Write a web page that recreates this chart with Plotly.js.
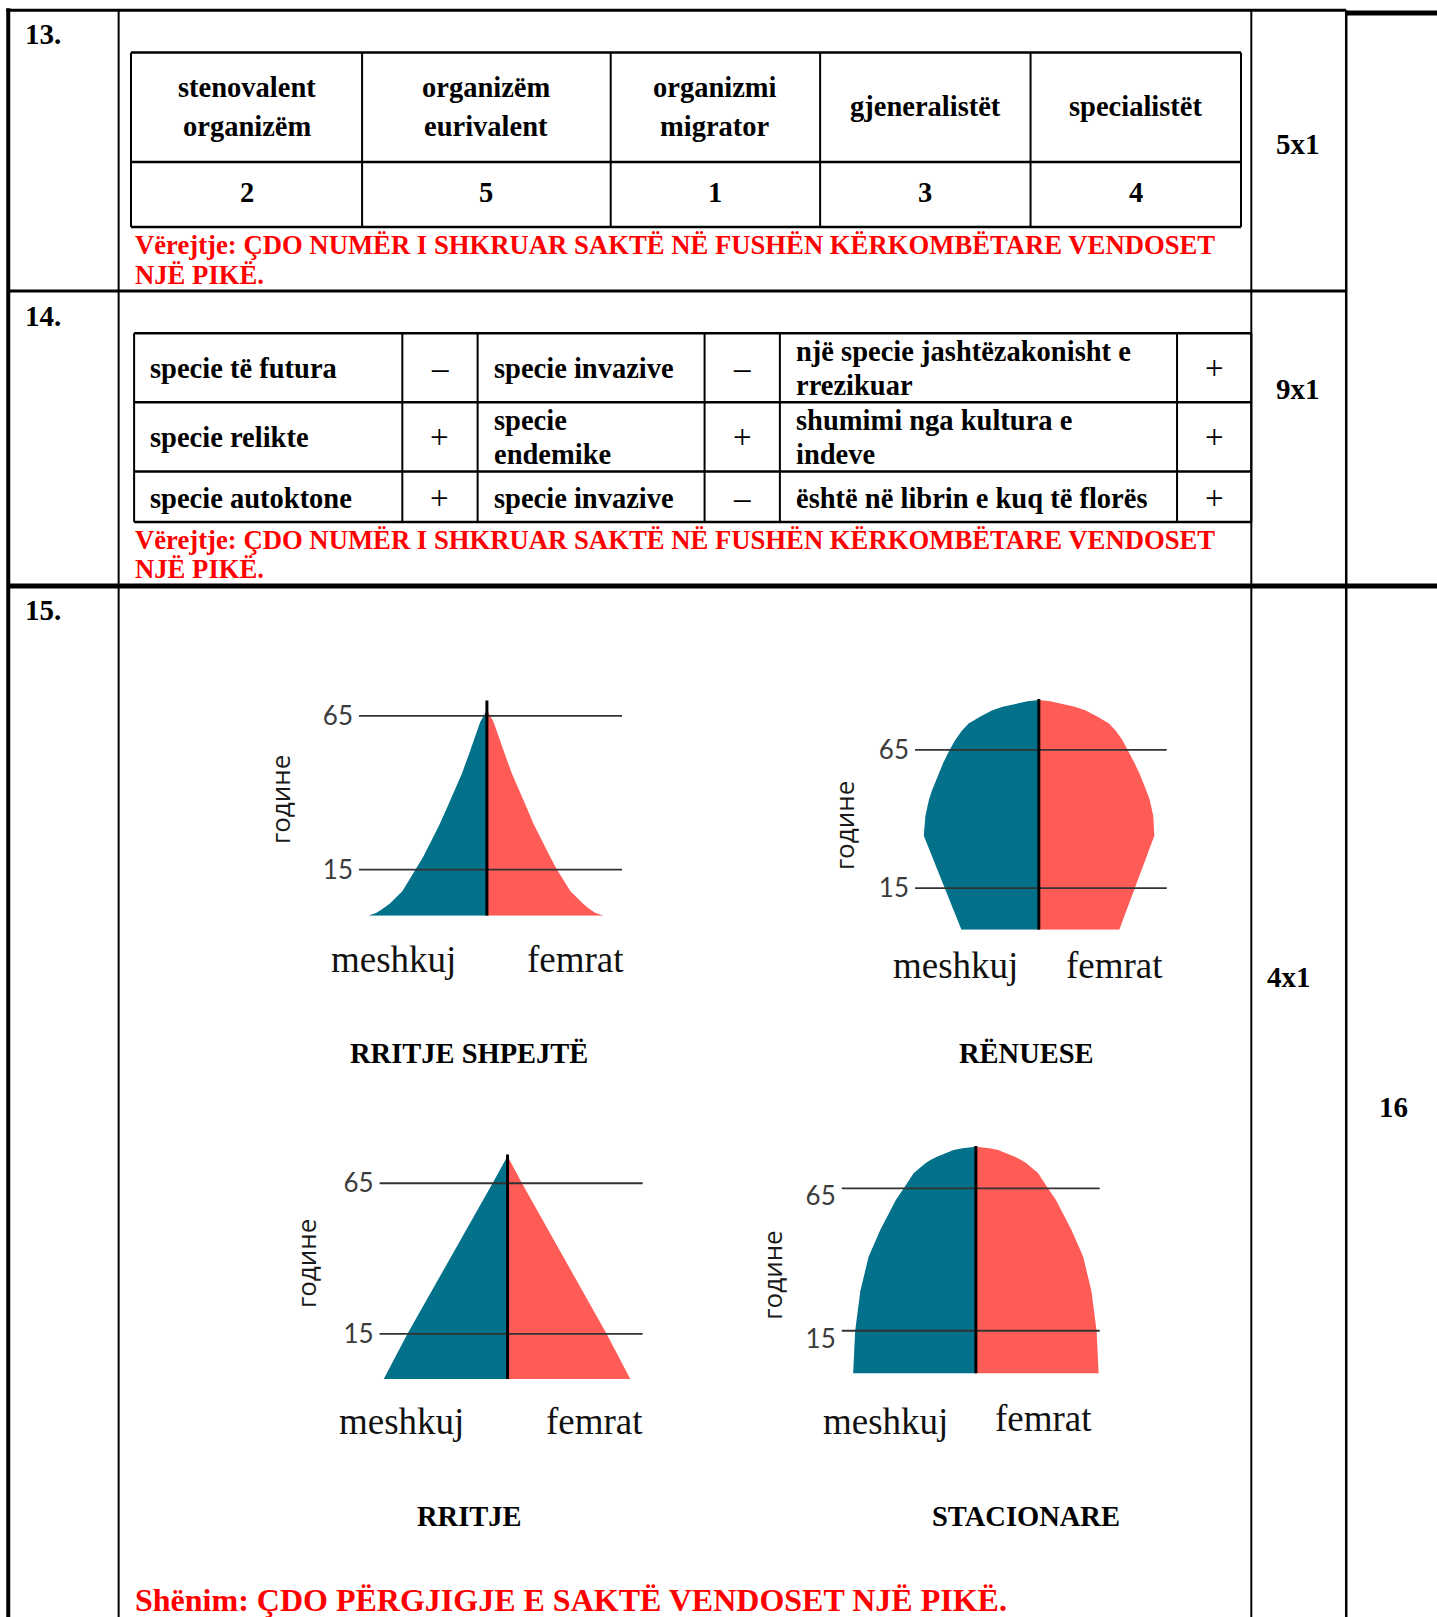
<!DOCTYPE html>
<html><head><meta charset="utf-8">
<script src="https://cdn.plot.ly/plotly-3.0.1.min.js"></script>
<style>html,body{margin:0;padding:0;background:#fff}#chart{width:1437px;height:1617px}</style>
</head><body><div id="chart"></div>
<script>
// ---------------- data ----------------
const sectionNumbers = ["13.", "14.", "15."];
const q13Headers = ["stenovalent\norganizëm", "organizëm\neurivalent", "organizmi\nmigrator", "gjeneralistët", "specialistët"];
const q13Answers = ["2", "5", "1", "3", "4"];
const q14Terms = [
  ["specie të futura", "specie invazive", "një specie jashtëzakonisht e\nrrezikuar"],
  ["specie relikte", "specie\nendemike", "shumimi nga kultura e\nindeve"],
  ["specie autoktone", "specie invazive", "është në librin e kuq të florës"]
];
const q14Signs = [["–", "–", "+"], ["+", "+", "+"], ["+", "–", "+"]];
const scores = ["5x1", "9x1", "4x1"];
const totalScore = "16";
const noteQ = ["Vërejtje: ÇDO NUMËR I SHKRUAR SAKTË NË FUSHËN KËRKOMBËTARE VENDOSET", "NJË PIKË."];
const noteFinal = "Shënim: ÇDO PËRGJIGJE E SAKTË VENDOSET NJË PIKË.";
const pyramidTitles = ["RRITJE SHPEJTË", "RËNUESE", "RRITJE", "STACIONARE"];
const sexLabels = ["meshkuj", "femrat"];
const ageAxisTitle = "године";
const ageTicks = [15, 65];

const agesShpejte    = [0, 1, 2, 4, 8, 15, 19, 25, 30, 36, 41, 46, 52, 58, 63, 65, 67];
const meshkujShpejte = [115, 107, 102, 94, 82, 69, 62, 53, 45.5, 37.5, 31, 24.5, 18, 11.5, 6.5, 3.2, 0];
const femratShpejte  = [113, 105, 100, 93, 81, 68, 61.5, 52.5, 45, 37.5, 31, 24.5, 18, 11.5, 6.5, 3.2, 0];

const agesRenuese    = [0, 15, 34, 41, 47, 50.5, 56.6, 60.5, 64.6, 68.6, 71.8, 74.6, 77, 79.4, 80.6, 81.9, 82.6, 83.1];
const meshkujRenuese = [75, 91, 111.5, 110, 106.5, 103.4, 97, 92.5, 87, 81, 75, 68, 57, 45, 35, 19.4, 11, 0];
const femratRenuese  = [78, 93, 112, 111, 107.5, 104, 97.5, 92.5, 87, 81, 75, 68, 57, 45, 35, 19.4, 11, 0];

const agesRritje    = [0, 15, 65, 74];
const meshkujRritje = [120, 97, 14.5, 0];
const femratRritje  = [119, 96, 14, 0];

const agesStacionare    = [0, 15, 29, 41, 50.4, 56.2, 61, 65, 70.3, 73.8, 75, 76.1, 77.3, 78.5, 79.1, 79.6];
const meshkujStacionare = [119, 117, 112, 104, 92.7, 84.7, 77.5, 70, 60.4, 49, 44, 37.8, 30.5, 21.6, 13, 0];
const femratStacionare  = [119, 117, 112, 104, 92.7, 84.7, 77.5, 70, 60.4, 49, 44, 37.8, 30.5, 21.6, 13, 0];

// ---------------- layout helpers ----------------
const W = 1437, H = 1617, S = 1437 / 1393;
const px = d => d / 1393;
const py = d => 1 - d * S / H;
const SERIF = "Liberation Serif, Times New Roman, serif";
const TEAL = "#03718a", RED = "#ff5b57";

const shapes = [];
const annotations = [];
function hline(x0, x1, y, w, c) { shapes.push({type:"line", xref:"paper", yref:"paper", x0:px(x0), x1:px(x1), y0:py(y), y1:py(y), line:{color:c||"#000", width:w}}); }
function vline(x, y0, y1, w, c) { shapes.push({type:"line", xref:"paper", yref:"paper", x0:px(x), x1:px(x), y0:py(y0), y1:py(y1), line:{color:c||"#000", width:w}}); }
function T(text, xd, yd, size, o) {
  o = o || {};
  annotations.push({text, x:px(xd), y:py(yd), xref:"paper", yref:"paper", showarrow:false,
    xanchor:o.anchor||"center", yanchor:"middle", textangle:o.angle||0,
    font:{family:o.family||SERIF, size, color:o.color||"#000", weight:o.weight||400}});
}
function TL(text, xd, yd, gap, size, o) {
  const lines = text.split("\n");
  lines.forEach((ln, i) => T(ln, xd, yd + (i - (lines.length - 1) / 2) * gap, size, o));
}

// ---------------- document frame ----------------
const BOTTOM = 1570;
vline(8, 8, BOTTOM, 4);
hline(6, 1305, 10, 3);
hline(1305, 1393, 12.5, 5);
vline(115, 10, BOTTOM, 2);
vline(1213, 10, BOTTOM, 2);
vline(1305, 10, BOTTOM, 2.5);
hline(8, 1305, 282, 3);
hline(8, 1393, 568, 5);

// section numbers & scores
const secY = [33, 306, 591];
sectionNumbers.forEach((s, i) => T(s, 22, secY[i], 29, {anchor:"left", weight:700}));
const scorePos = [[1258, 140], [1258, 377], [1250, 947]];
scores.forEach((s, i) => T(s, scorePos[i][0], scorePos[i][1], 29, {weight:700}));
T(totalScore, 1351, 1073, 29, {weight:700});

// ---------------- question 13 table ----------------
const c13 = [127, 351, 592, 795, 999, 1203];
[51, 157, 220].forEach(y => hline(c13[0], c13[5], y, 2.5));
c13.forEach(x => vline(x, 51, 220, 2));
q13Headers.forEach((h, i) => {
  const xc = (c13[i] + c13[i + 1]) / 2;
  TL(h, xc, 103.5, 38, 28.5, {weight:700});
  T(q13Answers[i], xc, 187, 28.5, {weight:700});
});
TL(noteQ.join("\n"), 129, 252, 28.5, 26.7, {anchor:"left", weight:700, color:"#ff0000"});

// ---------------- question 14 table ----------------
const c14 = [130, 390, 463, 683, 756, 1141, 1213];
const r14 = [323, 390, 457, 506];
r14.forEach(y => hline(c14[0], c14[6], y, 2.5));
c14.forEach(x => vline(x, 323, 506, 2));
const rowC = [357, 424, 483];
const textX = [143, 477, 770];
q14Terms.forEach((row, r) => {
  row.forEach((t, k) => {
    TL(t, textX[k], rowC[r], 33, 28.5, {anchor:"left", weight:700});
    const sx = (c14[2 * k + 1] + c14[2 * k + 2]) / 2;
    T(q14Signs[r][k], sx, rowC[r], 33, {weight:400});
  });
});
TL(noteQ.join("\n"), 129, 537.5, 29, 26.7, {anchor:"left", weight:700, color:"#ff0000"});

// ---------------- question 15 pyramids ----------------
const pyramids = [
  {ages:agesShpejte, m:meshkujShpejte, f:femratShpejte, over:3,
   box:{xc:472, xl:348, xr:603, y15:843, y65:694, r:[0, 72]}, shift:0,
   lab:{m:[381, 930], f:[558, 930], t:[455, 1021], yt:[272, 775]}},
  {ages:agesRenuese, m:meshkujRenuese, f:femratRenuese, over:0.3,
   box:{xc:1007, xl:887, xr:1131, y15:861, y65:727, r:[0, 86]}, shift:0,
   lab:{m:[926, 936], f:[1080, 936], t:[995, 1021], yt:[818, 800]}},
  {ages:agesRritje, m:meshkujRritje, f:femratRritje, over:0.5,
   box:{xc:492, xl:368, xr:623, y15:1293, y65:1147, r:[0, 76]}, shift:0,
   lab:{m:[389, 1378], f:[576, 1378], t:[455, 1470], yt:[296, 1225]}},
  {ages:agesStacionare, m:meshkujStacionare, f:femratStacionare, over:0.3,
   box:{xc:946, xl:816, xr:1066, y15:1290, y65:1152, r:[0, 82]}, shift:8,
   lab:{m:[858, 1378], f:[1012, 1375], t:[995, 1470], yt:[748, 1236]}}
];

const traces = [];
const layout = {width:W, height:H, margin:{l:0, r:0, t:0, b:0}, paper_bgcolor:"#fff",
  plot_bgcolor:"rgba(0,0,0,0)", showlegend:false, shapes, annotations};

pyramids.forEach((p, i) => {
  const n = i === 0 ? "" : String(i + 1);
  const b = p.box;
  const k = (b.y15 - b.y65) / 50;
  const yBottom = b.y15 + (15 - b.r[0]) * k;
  const yTop = b.y15 - (b.r[1] - 15) * k;
  layout["xaxis" + n] = {domain:[px(b.xl), px(b.xr)], range:[-(b.xc - b.xl), b.xr - b.xc],
    visible:false, anchor:"y" + n, fixedrange:true};
  layout["yaxis" + n] = {domain:[py(yBottom), py(yTop)], range:b.r, anchor:"x" + n,
    showgrid:false, zeroline:false, showline:false, ticks:"", tickvals:ageTicks,
    ticktext:ageTicks.map(String), tickfont:{family:"Lato, Open Sans, sans-serif", size:26, color:"#3c3c3c"},
    ticklabelstandoff:5, ticklabelshift:p.shift, fixedrange:true};
  const lineSpec = {width:0, shape:"linear"};
  traces.push({type:"scatter", mode:"lines", x:p.m.map(v => -v), y:p.ages, fill:"tozerox",
    fillcolor:TEAL, line:Object.assign({color:TEAL}, lineSpec), xaxis:"x" + n, yaxis:"y" + n, hoverinfo:"skip"});
  traces.push({type:"scatter", mode:"lines", x:p.f, y:p.ages, fill:"tozerox",
    fillcolor:RED, line:Object.assign({color:RED}, lineSpec), xaxis:"x" + n, yaxis:"y" + n, hoverinfo:"skip"});
  ageTicks.forEach(t => shapes.push({type:"line", xref:"x" + n + " domain", yref:"y" + n,
    x0:0, x1:1, y0:t, y1:t, line:{color:"#333", width:1.8}, layer:"above"}));
  shapes.push({type:"line", xref:"x" + n, yref:"y" + n, x0:0, x1:0, y0:0,
    y1:Math.max(...p.ages) + p.over, line:{color:"#000", width:3}, layer:"above"});
  T(sexLabels[0], p.lab.m[0], p.lab.m[1], 37, {color:"#111"});
  T(sexLabels[1], p.lab.f[0], p.lab.f[1], 37, {color:"#111"});
  T(pyramidTitles[i], p.lab.t[0], p.lab.t[1], 28.5, {weight:700});
  T(ageAxisTitle, p.lab.yt[0], p.lab.yt[1], 26, {angle:-90, family:"Open Sans, Lato, sans-serif", color:"#1a1a1a"});
});

T(noteFinal, 129, 1551, 32, {anchor:"left", weight:700, color:"#ff0000"});

Plotly.newPlot("chart", traces, layout, {staticPlot:true, displayModeBar:false});
</script>
</body></html>
